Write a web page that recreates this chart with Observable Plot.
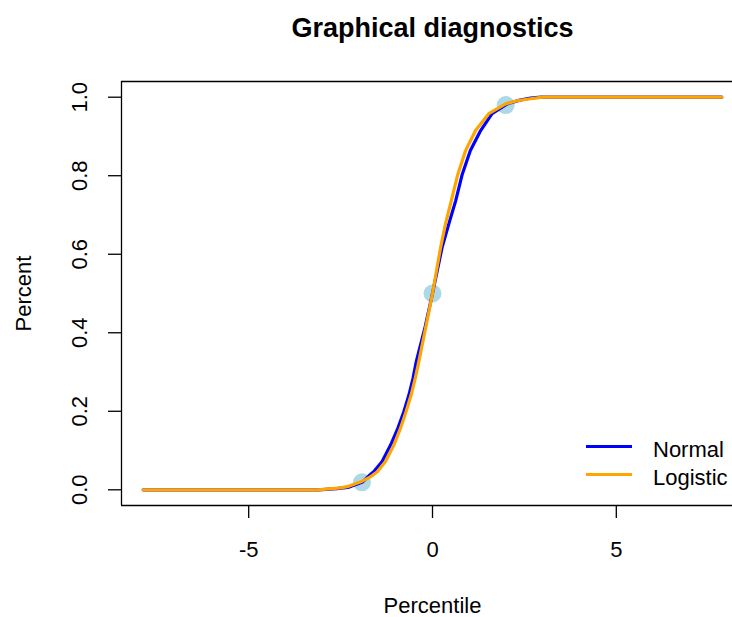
<!DOCTYPE html>
<html>
<head>
<meta charset="utf-8">
<script src="https://cdn.jsdelivr.net/npm/d3@7"></script>
<script src="https://cdn.jsdelivr.net/npm/@observablehq/plot@0.6"></script>
<style>
  html, body { margin: 0; padding: 0; background: #fff; overflow: hidden; }
  #wrap { position: relative; width: 732px; height: 617px; overflow: hidden; font-family: "Liberation Sans", Arial, Helvetica, sans-serif; }
  #legend { position: absolute; left: 586px; top: 436px; font-size: 22px; line-height: 28px; color: #000; white-space: nowrap; }
  .row { position: relative; height: 28px; padding-left: 67px; }
  .swatch { position: absolute; left: 0; top: 9px; width: 46px; height: 3px; }
</style>
</head>
<body>
<div id="wrap"></div>
<script>
// ---- data ----
const titleText = "Graphical diagnostics";
const xLabel = "Percentile";
const yLabel = "Percent";
const seriesNames = ["Normal", "Logistic"];
const seriesColors = ["#0000FF", "#FFA500"];

const normalX = [-7.87, -3.1, -2.6, -2.3, -1.9, -1.69, -1.6, -1.37, -1.14, -0.94, -0.78, -0.64, -0.53, -0.44, -0.2, 0, 0.26, 0.44, 0.63, 0.81, 1.03, 1.31, 1.62, 2.03, 2.35, 2.67, 2.95, 7.87];
const normalY = [0, 0, 0.003, 0.006, 0.02, 0.039, 0.046, 0.072, 0.114, 0.157, 0.199, 0.242, 0.284, 0.327, 0.415, 0.5, 0.617, 0.676, 0.736, 0.804, 0.864, 0.915, 0.958, 0.983, 0.992, 0.998, 1, 1];

const logisticX = [-7.87, -3.13, -2.5, -2.32, -1.91, -1.69, -1.5, -1.28, -1.05, -0.87, -0.72, -0.58, -0.47, -0.37, 0, 0.22, 0.35, 0.51, 0.69, 0.9, 1.17, 1.53, 1.99, 2.3, 2.67, 3.0, 7.87];
const logisticY = [0, 0, 0.005, 0.008, 0.022, 0.033, 0.046, 0.072, 0.114, 0.157, 0.199, 0.242, 0.284, 0.327, 0.5, 0.617, 0.676, 0.736, 0.804, 0.864, 0.915, 0.958, 0.983, 0.991, 0.996, 1, 1];

const pointX = [-1.92, 0, 1.99];
const pointY = [0.019, 0.5, 0.98];

const xTicks = [-5, 0, 5];
const yTicks = [0, 0.2, 0.4, 0.6, 0.8, 1.0];
const xDomain = [-8.46, 8.46];
const yDomain = [-0.04, 1.04];

// ---- build tables ----
const normal = normalX.map((x, i) => ({x, y: normalY[i]}));
const logistic = logisticX.map((x, i) => ({x, y: logisticY[i]}));
const points = pointX.map((x, i) => ({x, y: pointY[i]}));

const font = '"Liberation Sans", Arial, Helvetica, sans-serif';
const xMid = (xDomain[0] + xDomain[1]) / 2;
const yMid = (yDomain[0] + yDomain[1]) / 2;

const chart = Plot.plot({
  width: 732,
  height: 617,
  marginLeft: 121,
  marginRight: 0,
  marginTop: 81,
  marginBottom: 112,
  style: {fontFamily: font, background: "#fff", color: "#000"},
  x: {domain: xDomain, range: [121, 743]},
  y: {domain: yDomain},
  marks: [
    // box (right side falls outside the picture)
    Plot.ruleY(yDomain, {stroke: "#000", strokeWidth: 1.3}),
    Plot.ruleX([xDomain[0]], {stroke: "#000", strokeWidth: 1.3}),
    // ticks
    Plot.axisX({ticks: xTicks, tickSize: 13, tickFormat: () => "", label: null, stroke: "#000", strokeWidth: 1.3}),
    Plot.axisY({ticks: yTicks, tickSize: 13, tickFormat: () => "", label: null, stroke: "#000", strokeWidth: 1.3}),
    // tick labels
    Plot.text(xTicks, {x: d => d, text: d => String(d), frameAnchor: "bottom", textAnchor: "middle", lineAnchor: "bottom", dy: 51.7, fontSize: 22, fill: "#000"}),
    Plot.text(yTicks, {y: d => d, text: d => d.toFixed(1), frameAnchor: "left", textAnchor: "middle", lineAnchor: "middle", dx: -41.5, rotate: -90, fontSize: 22, fill: "#000"}),
    // axis titles
    Plot.text([xLabel], {x: () => xMid, text: d => d, frameAnchor: "bottom", textAnchor: "middle", lineAnchor: "bottom", dy: 107.5, fontSize: 22, fill: "#000"}),
    Plot.text([yLabel], {y: () => yMid, text: d => d, frameAnchor: "left", textAnchor: "middle", lineAnchor: "middle", dx: -97.5, rotate: -90, fontSize: 22, fill: "#000"}),
    // title
    Plot.text([titleText], {x: () => xMid, text: d => d, frameAnchor: "top", textAnchor: "middle", lineAnchor: "top", dy: -64, fontSize: 27, fontWeight: "bold", fill: "#000"}),
    // data
    Plot.dot(points, {x: "x", y: "y", r: 9, fill: "#ADD8E6", stroke: "none"}),
    Plot.line(normal, {x: "x", y: "y", stroke: seriesColors[0], strokeWidth: 3.2}),
    Plot.line(logistic, {x: "x", y: "y", stroke: seriesColors[1], strokeWidth: 3.2})
  ]
});

const wrap = document.getElementById("wrap");
wrap.appendChild(chart);

// legend (no box, as in the reference)
const legend = document.createElement("div");
legend.id = "legend";
seriesNames.forEach((name, i) => {
  const row = document.createElement("div");
  row.className = "row";
  const sw = document.createElement("span");
  sw.className = "swatch";
  sw.style.background = seriesColors[i];
  row.appendChild(sw);
  row.appendChild(document.createTextNode(name));
  legend.appendChild(row);
});
wrap.appendChild(legend);
</script>
</body>
</html>
